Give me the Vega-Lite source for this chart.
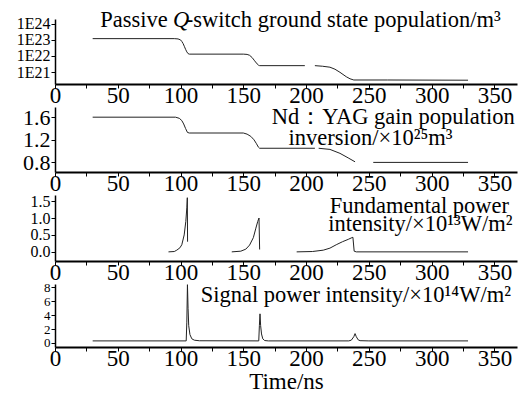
{
  "$schema": "https://vega.github.io/schema/vega-lite/v6.json",
  "padding": {"left": 16, "top": 9, "right": 5, "bottom": 0},
  "background": "white",
  "bounds": "flush",
  "spacing": 23,
  "config": {
    "view": {"stroke": null},
    "axis": {"labelFont": "Liberation Serif", "titleFont": "Liberation Serif", "labelColor": "black", "titleColor": "black", "domainColor": "black", "tickColor": "black", "grid": false, "titleFontWeight": "normal", "labelFlush": false, "labelOverlap": false, "labelBound": false},
    "text": {"font": "Liberation Serif", "fontSize": 22.5, "color": "black", "align": "left", "baseline": "alphabetic"},
    "line": {"color": "#222", "strokeWidth": 1}
  },
  "vconcat": [
    {
      "width": 462, "height": 65,
      "layer": [
        {
          "data": {"values": [
            {"t": 30, "v": 1.2e23, "s": "a"}, {"t": 95, "v": 1.2e23, "s": "a"}, {"t": 98, "v": 1.15e23, "s": "a"}, {"t": 100, "v": 1.0e23, "s": "a"}, {"t": 101, "v": 8e22, "s": "a"}, {"t": 102, "v": 6e22, "s": "a"}, {"t": 103, "v": 4e22, "s": "a"}, {"t": 104, "v": 2.6e22, "s": "a"}, {"t": 105, "v": 1.8e22, "s": "a"}, {"t": 106, "v": 1.4e22, "s": "a"}, {"t": 107, "v": 1.3e22, "s": "a"},
            {"t": 150, "v": 1.3e22, "s": "a"}, {"t": 153, "v": 1.25e22, "s": "a"}, {"t": 155, "v": 1.1e22, "s": "a"}, {"t": 157, "v": 8e21, "s": "a"}, {"t": 159, "v": 5e21, "s": "a"}, {"t": 161, "v": 3.2e21, "s": "a"}, {"t": 162, "v": 2.7e21, "s": "a"}, {"t": 163, "v": 2.5e21, "s": "a"}, {"t": 199, "v": 2.5e21, "s": "a"},
            {"t": 207, "v": 2.5e21, "s": "b"}, {"t": 213, "v": 2.3e21, "s": "b"}, {"t": 219, "v": 2.0e21, "s": "b"}, {"t": 223, "v": 1.5e21, "s": "b"}, {"t": 227, "v": 9.6e20, "s": "b"}, {"t": 232, "v": 5.1e20, "s": "b"}, {"t": 235, "v": 3.8e20, "s": "b"}, {"t": 238, "v": 3.2e20, "s": "b"}, {"t": 265, "v": 3.2e20, "s": "b"}, {"t": 329, "v": 3.1e20, "s": "b"}
          ]},
          "mark": "line",
          "encoding": {
            "x": {"field": "t", "type": "quantitative", "scale": {"domain": [0, 368], "nice": false}, "axis": {"title": null, "values": [0, 25, 50, 75, 100, 125, 150, 175, 200, 225, 250, 275, 300, 325, 350], "tickCount": 30, "labelExpr": "datum.value % 50 == 0 ? datum.label : ''", "labelFontSize": 23, "tickSize": 4, "labelPadding": -4, "domainWidth": 2}},
            "y": {"field": "v", "type": "quantitative", "scale": {"type": "log", "domain": [1.8e20, 2e24], "nice": false}, "axis": {"title": null, "values": [1e21, 1e22, 1e23, 1e24], "tickCount": 20, "labelExpr": "'1E' + round(log(datum.value)/LN10)", "labelFontSize": 16, "tickSize": 4, "labelPadding": 1, "domainWidth": 1.5}},
            "detail": {"field": "s"}
          }
        },
        {
          "data": {"values": [{"t": 36, "v": 6.3e23, "label": "Passive"}, {"t": 104.2, "v": 6.3e23, "label": "-switch ground state population/m³"}]},
          "mark": {"type": "text"},
          "encoding": {"x": {"field": "t", "type": "quantitative"}, "y": {"field": "v", "type": "quantitative"}, "text": {"field": "label"}}
        },
        {
          "data": {"values": [{"t": 93.9, "v": 6.3e23, "label": "Q"}]},
          "mark": {"type": "text", "fontStyle": "italic"},
          "encoding": {"x": {"field": "t", "type": "quantitative"}, "y": {"field": "v", "type": "quantitative"}, "text": {"field": "label"}}
        }
      ]
    },
    {
      "width": 462, "height": 65,
      "layer": [
        {
          "data": {"values": [
            {"t": 30, "v": 1.6, "s": "a"}, {"t": 96, "v": 1.6, "s": "a"}, {"t": 99, "v": 1.58, "s": "a"}, {"t": 101, "v": 1.54, "s": "a"}, {"t": 102.5, "v": 1.48, "s": "a"}, {"t": 104, "v": 1.4, "s": "a"}, {"t": 105.5, "v": 1.33, "s": "a"}, {"t": 107, "v": 1.32, "s": "a"},
            {"t": 150, "v": 1.32, "s": "a"}, {"t": 153, "v": 1.3, "s": "a"}, {"t": 156, "v": 1.26, "s": "a"}, {"t": 158.5, "v": 1.2, "s": "a"}, {"t": 160.5, "v": 1.13, "s": "a"}, {"t": 162, "v": 1.07, "s": "a"}, {"t": 163, "v": 1.05, "s": "a"}, {"t": 207, "v": 1.05, "s": "a"},
            {"t": 210, "v": 1.05, "s": "b"}, {"t": 219, "v": 1.03, "s": "b"}, {"t": 227, "v": 0.96, "s": "b"}, {"t": 233.5, "v": 0.88, "s": "b"}, {"t": 239, "v": 0.81, "s": "b"},
            {"t": 253.5, "v": 0.8, "s": "c"}, {"t": 329, "v": 0.8, "s": "c"}
          ]},
          "mark": "line",
          "encoding": {
            "x": {"field": "t", "type": "quantitative", "scale": {"domain": [0, 368], "nice": false}, "axis": {"title": null, "values": [0, 25, 50, 75, 100, 125, 150, 175, 200, 225, 250, 275, 300, 325, 350], "tickCount": 30, "labelExpr": "datum.value % 50 == 0 ? datum.label : ''", "labelFontSize": 23, "tickSize": 4, "labelPadding": -4, "domainWidth": 2}},
            "y": {"field": "v", "type": "quantitative", "scale": {"domain": [0.63, 1.78], "nice": false, "zero": false}, "axis": {"title": null, "values": [0.8, 1.2, 1.6], "tickCount": 20, "labelExpr": "format(datum.value, '.1f')", "labelFontSize": 22, "tickSize": 4, "labelPadding": 1, "domainWidth": 1.5}},
            "detail": {"field": "s"}
          }
        },
        {
          "data": {"values": [{"t": 172.6, "v": 1.48, "label": "Nd：YAG gain population"}, {"t": 186, "v": 1.1, "label": "inversion/×10²⁵m³"}]},
          "mark": {"type": "text"},
          "encoding": {"x": {"field": "t", "type": "quantitative"}, "y": {"field": "v", "type": "quantitative"}, "text": {"field": "label"}}
        }
      ]
    },
    {
      "width": 462, "height": 66,
      "layer": [
        {
          "data": {"values": [
            {"t": 90.4, "v": 0, "s": "a"}, {"t": 95, "v": 0.01, "s": "a"}, {"t": 97, "v": 0.05, "s": "a"}, {"t": 99.5, "v": 0.12, "s": "a"}, {"t": 101, "v": 0.21, "s": "a"}, {"t": 102.9, "v": 0.5, "s": "a"}, {"t": 104.2, "v": 0.9, "s": "a"}, {"t": 105, "v": 1.3, "s": "a"}, {"t": 105.4, "v": 1.6, "s": "a"}, {"t": 105.6, "v": 0.3, "s": "a"},
            {"t": 140.8, "v": 0, "s": "b"}, {"t": 148, "v": 0.02, "s": "b"}, {"t": 152, "v": 0.08, "s": "b"}, {"t": 155, "v": 0.2, "s": "b"}, {"t": 158, "v": 0.42, "s": "b"}, {"t": 160, "v": 0.7, "s": "b"}, {"t": 161.5, "v": 0.9, "s": "b"}, {"t": 162.5, "v": 1.0, "s": "b"}, {"t": 163, "v": 0.07, "s": "b"},
            {"t": 192.5, "v": 0, "s": "c"}, {"t": 205, "v": 0.01, "s": "c"}, {"t": 213.7, "v": 0.05, "s": "c"}, {"t": 219, "v": 0.11, "s": "c"}, {"t": 224, "v": 0.21, "s": "c"}, {"t": 229, "v": 0.3, "s": "c"}, {"t": 233.6, "v": 0.37, "s": "c"}, {"t": 236.5, "v": 0.42, "s": "c"}, {"t": 237.3, "v": 0.43, "s": "c"}, {"t": 238.3, "v": 0.02, "s": "c"}, {"t": 240, "v": 0, "s": "c"}, {"t": 329, "v": 0, "s": "c"}
          ]},
          "mark": "line",
          "encoding": {
            "x": {"field": "t", "type": "quantitative", "scale": {"domain": [0, 368], "nice": false}, "axis": {"title": null, "values": [0, 25, 50, 75, 100, 125, 150, 175, 200, 225, 250, 275, 300, 325, 350], "tickCount": 30, "labelExpr": "datum.value % 50 == 0 ? datum.label : ''", "labelFontSize": 23, "tickSize": 4, "labelPadding": -4, "domainWidth": 2}},
            "y": {"field": "v", "type": "quantitative", "scale": {"domain": [-0.27, 1.68], "nice": false, "zero": false}, "axis": {"title": null, "values": [0, 0.5, 1, 1.5], "tickCount": 20, "labelExpr": "format(datum.value, '.1f')", "labelFontSize": 16, "tickSize": 4, "labelPadding": 1, "domainWidth": 1.5}},
            "detail": {"field": "s"}
          }
        },
        {
          "data": {"values": [{"t": 218.8, "v": 1.14, "label": "Fundamental power"}, {"t": 217.7, "v": 0.62, "label": "intensity/×10¹³W/m²"}]},
          "mark": {"type": "text"},
          "encoding": {"x": {"field": "t", "type": "quantitative"}, "y": {"field": "v", "type": "quantitative"}, "text": {"field": "label"}}
        }
      ]
    },
    {
      "width": 462, "height": 63,
      "layer": [
        {
          "data": {"values": [
            {"t": 30, "v": 0.3}, {"t": 104.5, "v": 0.3}, {"t": 105, "v": 3}, {"t": 105.5, "v": 8.4}, {"t": 106, "v": 5}, {"t": 106.5, "v": 2.5}, {"t": 107.5, "v": 1.2}, {"t": 109, "v": 0.6}, {"t": 111, "v": 0.4}, {"t": 115, "v": 0.32},
            {"t": 162.3, "v": 0.3}, {"t": 162.8, "v": 2.5}, {"t": 163.3, "v": 4.2}, {"t": 163.8, "v": 2.5}, {"t": 164.5, "v": 1.3}, {"t": 165.5, "v": 0.6}, {"t": 167, "v": 0.35}, {"t": 170, "v": 0.3},
            {"t": 234, "v": 0.3}, {"t": 236, "v": 0.4}, {"t": 238, "v": 0.9}, {"t": 239, "v": 1.35}, {"t": 240, "v": 0.9}, {"t": 241.5, "v": 0.45}, {"t": 243, "v": 0.33}, {"t": 250, "v": 0.3}, {"t": 329, "v": 0.3}
          ]},
          "mark": "line",
          "encoding": {
            "x": {"field": "t", "type": "quantitative", "scale": {"domain": [0, 368], "nice": false}, "axis": {"title": "Time/ns", "titleFontSize": 23, "titlePadding": 0, "values": [0, 25, 50, 75, 100, 125, 150, 175, 200, 225, 250, 275, 300, 325, 350], "tickCount": 30, "labelExpr": "datum.value % 50 == 0 ? datum.label : ''", "labelFontSize": 23, "tickSize": 4, "labelPadding": -4, "domainWidth": 2}},
            "y": {"field": "v", "type": "quantitative", "scale": {"domain": [-0.58, 8.5], "nice": false, "zero": false}, "axis": {"title": null, "values": [0, 2, 4, 6, 8], "tickCount": 20, "labelExpr": "format(datum.value, 'd')", "labelFontSize": 13, "tickSize": 4, "labelPadding": 1, "domainWidth": 1.5}}
          }
        },
        {
          "data": {"values": [{"t": 116, "v": 5.93, "label": "Signal power intensity/×10¹⁴W/m²"}]},
          "mark": {"type": "text"},
          "encoding": {"x": {"field": "t", "type": "quantitative"}, "y": {"field": "v", "type": "quantitative"}, "text": {"field": "label"}}
        }
      ]
    }
  ]
}
